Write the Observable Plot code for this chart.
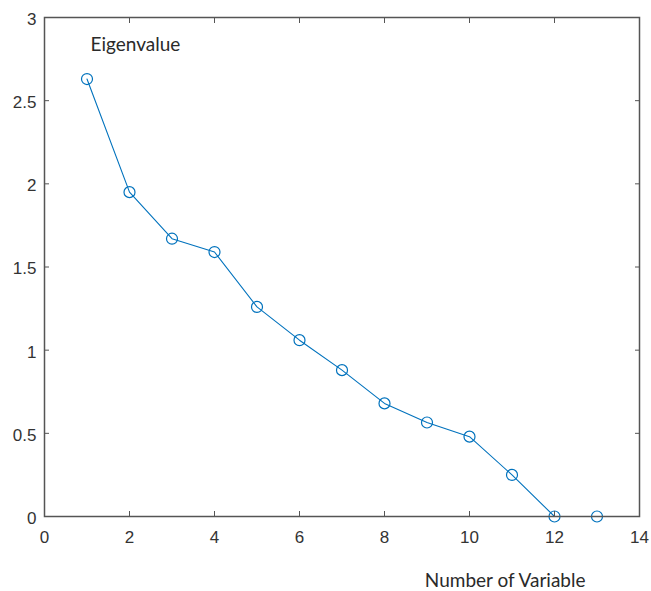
<!DOCTYPE html>
<html>
<head>
<meta charset="utf-8">
<script src="https://cdn.jsdelivr.net/npm/d3@7"></script>
<script src="https://cdn.jsdelivr.net/npm/@observablehq/plot@0.6"></script>
<style>
  html, body { margin: 0; padding: 0; background: #fff; }
  svg { display: block; }
</style>
</head>
<body>
<div id="chart"></div>
<script>
const variables = [1, 2, 3, 4, 5, 6, 7, 8, 9, 10, 11, 12, 13];
const eigenvalues = [2.63, 1.95, 1.67, 1.59, 1.26, 1.06, 0.88, 0.68, 0.565, 0.48, 0.25, 0, 0];
const xTicks = [0, 2, 4, 6, 8, 10, 12, 14];
const yTicks = [0, 0.5, 1, 1.5, 2, 2.5, 3];
const yTickLabels = ["0", "0.5", "1", "1.5", "2", "2.5", "3"];

const data = variables.map((v, i) => ({x: v, y: eigenvalues[i]}));
const blue = "#0072BD";
const axisColor = "#555";
const labelFont = "'Liberation Sans', Arial, sans-serif";
const titleFont = "Lato, 'Open Sans', sans-serif";

const chart = Plot.plot({
  width: 651,
  height: 591,
  marginLeft: 44,
  marginRight: 12,
  marginTop: 17,
  marginBottom: 75,
  style: {fontFamily: labelFont, fontSize: "17px", color: "#333", background: "#fff"},
  x: {domain: [0, 14]},
  y: {domain: [0, 3]},
  marks: [
    Plot.line(data, {x: "x", y: "y", stroke: blue, strokeWidth: 1.1}),
    Plot.dot(data, {x: "x", y: "y", r: 5.5, stroke: blue, strokeWidth: 1.2, fill: "none"}),
    Plot.frame({stroke: axisColor, strokeWidth: 1.5}),
    Plot.axisX({ticks: xTicks, anchor: "bottom", tickSize: -5, tickPadding: 19, stroke: axisColor, label: null, fontSize: 17, fill: "#333"}),
    Plot.axisX({ticks: xTicks, anchor: "top", tickSize: -5, tickFormat: () => "", stroke: axisColor, label: null}),
    Plot.axisY({ticks: yTicks, anchor: "left", tickSize: -5, tickFormat: () => "", stroke: axisColor, label: null}),
    Plot.axisY({ticks: yTicks, anchor: "left", tickSize: 0, tickPadding: 8, dy: 2, tickFormat: (d) => yTickLabels[yTicks.indexOf(d)], label: null, fontSize: 17, fill: "#333"}),
    Plot.axisY({ticks: yTicks, anchor: "right", tickSize: -5, tickFormat: () => "", stroke: axisColor, label: null}),
    Plot.text(["Eigenvalue"], {frameAnchor: "top-left", lineAnchor: "middle", dx: 46, dy: 27, textAnchor: "start", fontFamily: titleFont, fontSize: 19, fill: "#2a2a2a"}),
    Plot.text(["Number of Variable"], {frameAnchor: "bottom-right", lineAnchor: "middle", dx: -54, dy: 64, textAnchor: "end", fontFamily: titleFont, fontSize: 19, fill: "#2a2a2a"})
  ]
});
document.getElementById("chart").appendChild(chart);
</script>
</body>
</html>
